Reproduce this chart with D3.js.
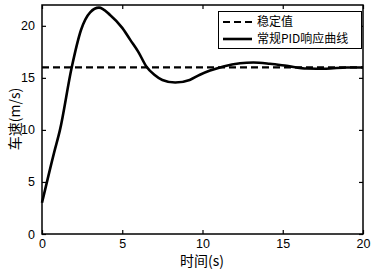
<!DOCTYPE html>
<html>
<head>
<meta charset="utf-8">
<script src="https://cdn.jsdelivr.net/npm/d3@7"></script>
<style>
body { margin: 0; background: #fff; }
text { font-family: "Liberation Sans", Arial, sans-serif; }
.cjk { font-family: "Noto Sans CJK SC", sans-serif; }
</style>
</head>
<body>
<div id="chart"></div>
<script>
// data
var times  = [0, 0.75, 1.12, 1.85, 2.43, 3.0, 3.55, 4.24, 5, 5.5, 6, 6.5, 7, 7.5, 8.3, 9.2, 9.84, 10.47, 11.3, 12.34, 13.17, 14.2, 15.25, 16.5, 17.7, 19, 20];
var speeds = [3.0, 7.8, 10, 16, 19.6, 21.3, 21.75, 21.05, 19.8, 18.65, 17.5, 16.1, 15.3, 14.8, 14.55, 14.8, 15.3, 15.7, 16.1, 16.4, 16.47, 16.35, 16.15, 15.9, 15.88, 16.0, 16.0];
var steady = 16;
var xTicks = [0, 5, 10, 15, 20];
var yTicks = [0, 5, 10, 15, 20];
var legendNames = ['稳定值', '常规PID响应曲线'];

var width = 373, height = 271;
var pLeft = 42, pRight = 363, pTop = 5, pBottom = 234;

var svg = d3.select('#chart').append('svg')
	.attr('width', width)
	.attr('height', height);

var x = d3.scaleLinear().domain([0, 20]).range([pLeft, pRight]);
var y = d3.scaleLinear().domain([0, 22]).range([pBottom, pTop]);

// axes, matlab style with inward ticks on all sides
svg.append('g')
	.attr('transform', 'translate(0,' + pBottom + ')')
	.call(d3.axisBottom(x).tickValues(xTicks).tickSize(-4).tickPadding(5))
	.call(g => g.select('.domain').remove());
svg.append('g')
	.attr('transform', 'translate(0,' + pTop + ')')
	.call(d3.axisTop(x).tickValues(xTicks).tickSize(-4).tickFormat(''))
	.call(g => g.select('.domain').remove());
svg.append('g')
	.attr('transform', 'translate(' + pLeft + ',0)')
	.call(d3.axisLeft(y).tickValues(yTicks).tickSize(-4).tickPadding(7))
	.call(g => g.select('.domain').remove());
svg.append('g')
	.attr('transform', 'translate(' + pRight + ',0)')
	.call(d3.axisRight(y).tickValues(yTicks).tickSize(-4).tickFormat(''))
	.call(g => g.select('.domain').remove());

svg.selectAll('.tick text').attr('font-size', 12.5).attr('fill', '#000').attr('font-family', '"Liberation Sans", Arial, sans-serif');
svg.selectAll('.tick line').attr('stroke', '#000').attr('stroke-width', 1.2);

svg.append('rect')
	.attr('x', pLeft).attr('y', pTop)
	.attr('width', pRight - pLeft).attr('height', pBottom - pTop)
	.attr('fill', 'none').attr('stroke', '#000').attr('stroke-width', 1.5);

// steady value
svg.append('line')
	.attr('x1', x(0)).attr('x2', x(20))
	.attr('y1', y(steady)).attr('y2', y(steady))
	.attr('stroke', '#000').attr('stroke-width', 2.2)
	.attr('stroke-dasharray', '7,4');

var line = d3.line()
	.x((d, i) => x(times[i]))
	.y(d => y(d))
	.curve(d3.curveMonotoneX);

svg.append('path')
	.attr('d', line(speeds))
	.attr('fill', 'none')
	.attr('stroke', '#000')
	.attr('stroke-width', 2.6);

// legend
var lg = svg.append('g');
lg.append('rect')
	.attr('x', 218.5).attr('y', 11.5)
	.attr('width', 143).attr('height', 37)
	.attr('fill', '#fff').attr('stroke', '#000').attr('stroke-width', 1);
legendNames.forEach((name, i) => {
	var yy = 22 + i * 17;
	lg.append('line')
		.attr('x1', 223).attr('x2', 252)
		.attr('y1', yy).attr('y2', yy)
		.attr('stroke', '#000')
		.attr('stroke-width', i == 0 ? 2.2 : 2.6)
		.attr('stroke-dasharray', i == 0 ? '7,4' : null);
	lg.append('text')
		.attr('class', 'cjk')
		.attr('x', 257).attr('y', yy + 4)
		.attr('font-size', 12)
		.text(name);
});

// axis titles
svg.append('text')
	.attr('class', 'cjk')
	.attr('x', 202).attr('y', 266)
	.attr('text-anchor', 'middle')
	.attr('font-size', 14)
	.text('时间(s)');
svg.append('text')
	.attr('class', 'cjk')
	.attr('transform', 'translate(20,119) rotate(-90)')
	.attr('text-anchor', 'middle')
	.attr('font-size', 14)
	.text('车速(m/s)');
</script>
</body>
</html>
